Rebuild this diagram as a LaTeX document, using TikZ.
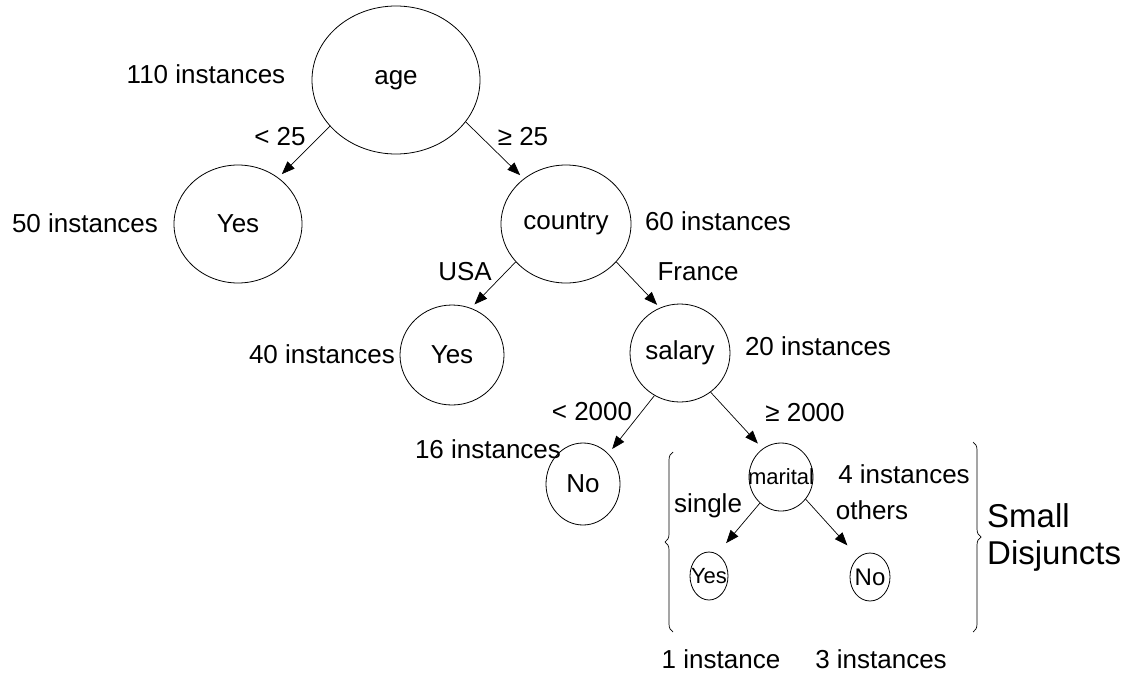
\documentclass[tikz,border=0pt]{standalone}
\usepackage{fontspec}
\setmainfont{Liberation Sans}
\usetikzlibrary{shapes.geometric,arrows.meta,decorations.pathreplacing}
\begin{document}
\begin{tikzpicture}[x=1pt,y=-1pt,
  tn/.style={draw, ellipse, line width=0.8pt, inner sep=0pt, font=\fontsize{26}{30}\selectfont},
  tns/.style={tn, font=\fontsize{22}{26}\selectfont},
  lbl/.style={inner sep=0pt, anchor=base, font=\fontsize{26}{30}\selectfont},
  arr/.style={-{Triangle[length=13pt,width=10pt]}, line width=0.7pt},
  brc/.style={decorate, decoration={brace, amplitude=8pt}, line width=0.7pt}]
\useasboundingbox (0,0) rectangle (1126,675);

% tree nodes
\node[tn, minimum width=168pt, minimum height=148pt] (age) at (396,80) {\makebox[0pt]{age}};
\node[tn, minimum width=128pt, minimum height=118pt] (yesA) at (238,224) {\makebox[0pt]{Yes}};
\node[tn, minimum width=130pt, minimum height=118pt] (country) at (566,224) {\makebox[0pt]{country}};
\node[tn, minimum width=104pt, minimum height=100pt] (yesB) at (452,355) {\makebox[0pt]{Yes}};
\node[tn, minimum width=100pt, minimum height=98pt] (salary) at (680,353) {\makebox[0pt]{salary}};
\node[tn, minimum width=74pt, minimum height=82pt] (noA) at (583,484) {\makebox[0pt]{No}};
\node[tns, minimum width=64pt, minimum height=68pt] (marital) at (781,477) {\makebox[0pt]{marital}};
\node[tns, minimum width=38pt, minimum height=48pt] (yesC) at (709,576) {\makebox[0pt]{Yes}};
\node[tns, minimum width=40pt, minimum height=48pt, font=\fontsize{24}{28}\selectfont] (noB) at (870,577) {\makebox[0pt]{No}};

% connectors
\draw[arr, shorten >=5pt] (age.215) -- (yesA.49);
\draw[arr, shorten >=5pt] (age.-31) -- (country.133);
\draw[arr, shorten >=5pt] (country.217) -- (yesB.68);
\draw[arr, shorten >=4pt] (country.-37) -- (salary.114);
\draw[arr, shorten >=6pt] (salary.239) -- (noA.50);
\draw[arr, shorten >=7pt] (salary.-52) -- (marital.123);
\draw[arr, shorten >=14pt] (marital.231) -- (yesC.70);
\draw[arr, shorten >=16pt] (marital.-42) -- (noB.121);

% labels
\node[lbl] (l110) at (206,83) {110 instances};
\node[lbl] (llt25) at (280,145) {< 25};
\node[lbl] (lge25) at (523,145) {≥ 25};
\node[lbl] (l50) at (85,232) {50 instances};
\node[lbl] (l60) at (718,230) {60 instances};
\node[lbl] (lusa) at (465,280) {USA};
\node[lbl] (lfr) at (698,280) {France};
\node[lbl] (l40) at (322,363) {40 instances};
\node[lbl] (l20) at (818,355) {20 instances};
\node[lbl] (llt2000) at (592,420) {< 2000};
\node[lbl] (lge2000) at (805,421) {≥ 2000};
\node[lbl] (l16) at (488,458) {16 instances};
\node[lbl] (l4) at (904,483) {4 instances};
\node[lbl] (lsingle) at (708,512) {single};
\node[lbl] (lothers) at (872,519) {others};
\node[lbl] (l1) at (721,668) {1 instance};
\node[lbl] (l3) at (881,668) {3 instances};
\node[inner sep=0pt, anchor=base west, align=left, font=\fontsize{33}{37}\selectfont] (small) at (987,564) {Small\\Disjuncts};

% braces
\coordinate (lbB) at (673,632);
\coordinate (lbT) at (673,452);
\coordinate (rbT) at (973,442);
\coordinate (rbB) at (973,632);
\draw[brc] (lbB) -- (lbT);
\draw[brc] (rbT) -- (rbB);
\end{tikzpicture}
\end{document}
